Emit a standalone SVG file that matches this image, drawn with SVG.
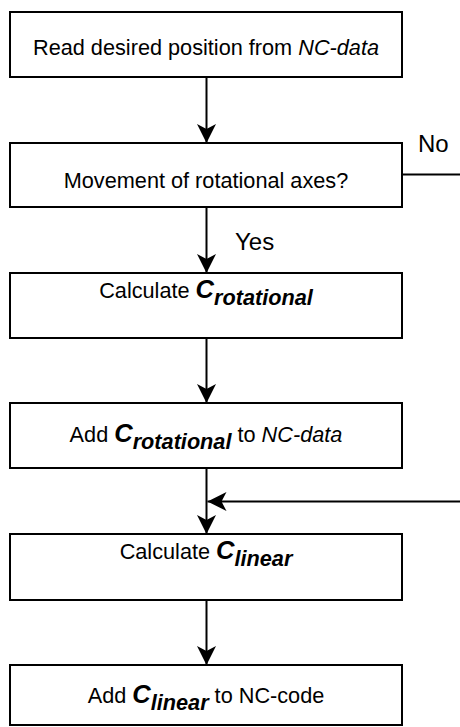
<svg xmlns="http://www.w3.org/2000/svg" width="460" height="727" viewBox="0 0 460 727">
<style>
.box{fill:#fff;stroke:#000;stroke-width:2}
.t{font-family:"Liberation Sans",Arial,sans-serif;font-size:21.7px;fill:#000;text-anchor:middle}
.lbl{font-family:"Liberation Sans",Arial,sans-serif;font-size:24px;fill:#000}
.c{font-weight:bold;font-style:italic;font-size:25.5px}
.s{font-weight:bold;font-style:italic;font-size:21.7px}
.i{font-style:italic}
.ln{fill:none;stroke:#000;stroke-width:2}
</style>
<defs>
<marker id="ah" viewBox="0 0 20 20" markerWidth="20" markerHeight="20" refX="19" refY="10" orient="auto" markerUnits="userSpaceOnUse">
<path d="M19,10 L0,0.5 L5,10 L0,19.5 Z" fill="#000"/>
</marker>
</defs>
<g id="connectors">
<path class="ln" d="M206.5,77 V143" marker-end="url(#ah)"/>
<path class="ln" d="M206.5,207 V273" marker-end="url(#ah)"/>
<path class="ln" d="M206.5,338 V403" marker-end="url(#ah)"/>
<path class="ln" d="M206.5,468 V534" marker-end="url(#ah)"/>
<path class="ln" d="M206.5,600 V665" marker-end="url(#ah)"/>
<path class="ln" d="M402,174.5 H490 V501.5 H207.5" marker-end="url(#ah)"/>
<text class="lbl" x="235" y="250">Yes</text>
<text class="lbl" x="418" y="152">No</text>
</g>
<g id="n1">
<rect class="box" x="10" y="12" width="392" height="65"/>
<text class="t" x="206" y="55">Read desired position from <tspan class="i">NC-data</tspan></text>
</g>
<g id="n2">
<rect class="box" x="10" y="143" width="392" height="64"/>
<text class="t" x="206" y="188">Movement of rotational axes?</text>
</g>
<g id="n3">
<rect class="box" x="10" y="273" width="392" height="65"/>
<text class="t" x="206" y="297.5">Calculate <tspan class="c">C</tspan><tspan class="s" dy="7">rotational</tspan></text>
</g>
<g id="n4">
<rect class="box" x="10" y="403" width="392" height="65"/>
<text class="t" x="206" y="442">Add <tspan class="c">C</tspan><tspan class="s" dy="7">rotational</tspan><tspan dy="-7"> to </tspan><tspan class="i">NC-data</tspan></text>
</g>
<g id="n5">
<rect class="box" x="10" y="534" width="392" height="66"/>
<text class="t" x="206" y="559">Calculate <tspan class="c">C</tspan><tspan class="s" dy="7">linear</tspan></text>
</g>
<g id="n6">
<rect class="box" x="10" y="665" width="392" height="60"/>
<text class="t" x="206" y="703">Add <tspan class="c">C</tspan><tspan class="s" dy="7">linear</tspan><tspan dy="-7"> to NC-code</tspan></text>
</g>
</svg>
